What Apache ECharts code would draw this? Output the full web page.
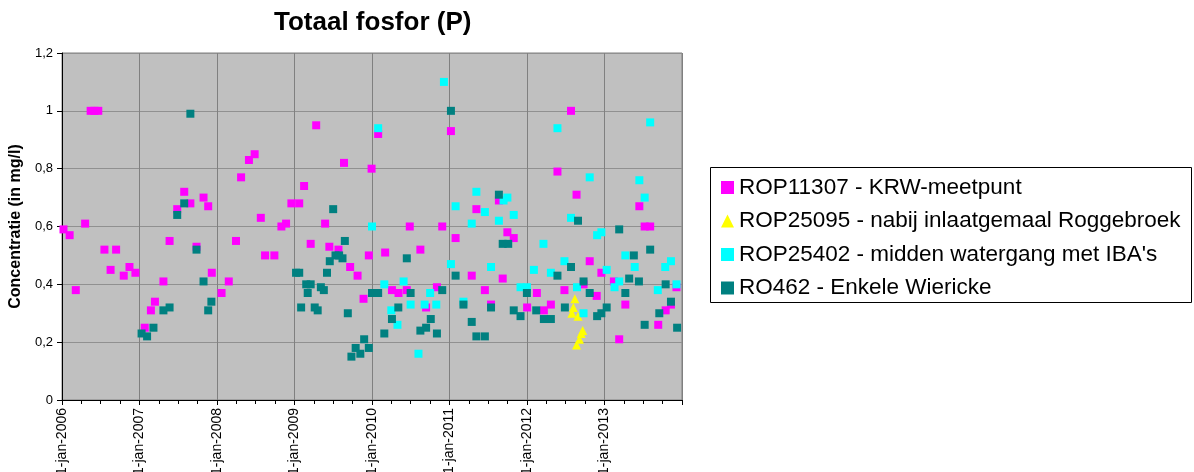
<!DOCTYPE html>
<html>
<head>
<meta charset="utf-8">
<script src="https://cdn.jsdelivr.net/npm/echarts@6/dist/echarts.min.js"></script>
<style>
html,body{margin:0;padding:0;background:#fff;}
#chart{width:1194px;height:472px;}
</style>
</head>
<body>
<div id="chart"></div>
<script>
const chartTitle = 'Totaal fosfor (P)';
const yAxisName = 'Concentratie (in mg/l)';
const seriesNames = [
  'ROP11307 - KRW-meetpunt',
  'ROP25095 - nabij inlaatgemaal Roggebroek',
  "ROP25402 - midden watergang met IBA's",
  'RO462 - Enkele Wiericke'
];
const xMin = '2006-01-01';
const xMax = '2014-01-01';
const yMin = 0, yMax = 1.2, yStep = 0.2;

const rop11307 = [
  ['2006-01-08',0.59],['2006-02-06',0.57],['2006-03-07',0.38],['2006-04-20',0.61],
  ['2006-05-16',1.00],['2006-06-03',1.00],['2006-06-21',1.00],['2006-07-20',0.52],
  ['2006-08-18',0.45],['2006-09-13',0.52],['2006-10-19',0.43],['2006-11-15',0.46],
  ['2006-12-13',0.44],['2007-01-26',0.25],['2007-02-24',0.31],['2007-03-15',0.34],
  ['2007-04-24',0.41],['2007-05-23',0.55],['2007-06-28',0.66],['2007-07-31',0.72],
  ['2007-08-29',0.68],['2007-09-27',0.53],['2007-10-30',0.70],['2007-11-21',0.67],
  ['2007-12-08',0.44],['2008-01-23',0.37],['2008-02-26',0.41],['2008-03-31',0.55],
  ['2008-04-24',0.77],['2008-05-31',0.83],['2008-06-27',0.85],['2008-07-26',0.63],
  ['2008-08-15',0.50],['2008-09-28',0.50],['2008-10-31',0.60],['2008-11-22',0.61],
  ['2008-12-17',0.68],['2009-01-23',0.68],['2009-02-15',0.74],['2009-03-18',0.54],
  ['2009-04-13',0.95],['2009-05-25',0.61],['2009-06-14',0.53],['2009-07-27',0.52],
  ['2009-08-22',0.82],['2009-09-20',0.46],['2009-10-25',0.43],['2009-11-22',0.35],
  ['2009-12-17',0.50],['2009-12-30',0.80],['2010-01-30',0.92],['2010-03-04',0.51],
  ['2010-04-05',0.38],['2010-05-06',0.37],['2010-06-14',0.38],['2010-06-28',0.60],
  ['2010-08-17',0.52],['2010-09-13',0.32],['2010-11-03',0.39],['2010-11-28',0.60],
  ['2011-01-08',0.93],['2011-01-30',0.56],['2011-04-16',0.43],['2011-05-08',0.66],
  ['2011-06-17',0.38],['2011-07-16',0.33],['2011-08-22',0.69],['2011-09-09',0.42],
  ['2011-10-01',0.58],['2011-10-31',0.56],['2012-01-02',0.32],['2012-02-17',0.37],
  ['2012-03-21',0.31],['2012-04-23',0.33],['2012-05-24',0.79],['2012-06-26',0.38],
  ['2012-07-27',1.00],['2012-08-22',0.71],['2012-09-24',0.40],['2012-10-23',0.48],
  ['2012-11-25',0.36],['2012-12-17',0.44],['2013-02-14',0.41],['2013-03-11',0.21],
  ['2013-04-09',0.33],['2013-06-14',0.67],['2013-07-09',0.60],['2013-08-04',0.60],
  ['2013-09-11',0.26],['2013-10-16',0.31],['2013-11-10',0.33],['2013-12-06',0.39]
];

const rop25095 = [
  ['2012-07-31',0.30],['2012-08-07',0.32],['2012-08-14',0.35],['2012-08-22',0.19],
  ['2012-08-29',0.29],['2012-09-05',0.21],['2012-09-13',0.23],['2012-09-20',0.24]
];

const rop25402 = [
  ['2010-01-01',0.60],['2010-01-30',0.94],['2010-02-28',0.40],['2010-04-02',0.31],
  ['2010-05-01',0.26],['2010-05-30',0.41],['2010-07-02',0.33],['2010-08-08',0.16],
  ['2010-09-06',0.33],['2010-10-02',0.37],['2010-10-31',0.33],['2010-12-06',1.10],
  ['2011-01-08',0.47],['2011-01-30',0.67],['2011-03-08',0.34],['2011-04-16',0.61],
  ['2011-05-08',0.72],['2011-06-17',0.65],['2011-07-16',0.46],['2011-08-22',0.62],
  ['2011-09-13',0.69],['2011-10-01',0.70],['2011-10-31',0.64],['2011-12-02',0.39],
  ['2012-01-01',0.39],['2012-02-03',0.45],['2012-03-19',0.54],['2012-04-23',0.44],
  ['2012-05-24',0.94],['2012-06-26',0.48],['2012-07-27',0.63],['2012-08-24',0.39],
  ['2012-09-24',0.30],['2012-10-23',0.77],['2012-11-27',0.57],['2012-12-17',0.58],
  ['2013-01-11',0.45],['2013-02-17',0.39],['2013-03-11',0.41],['2013-04-09',0.50],
  ['2013-05-23',0.46],['2013-06-14',0.76],['2013-07-09',0.70],['2013-08-04',0.96],
  ['2013-09-09',0.38],['2013-10-14',0.46],['2013-11-10',0.48],['2013-12-06',0.40]
];

const ro462 = [
  ['2007-01-11',0.23],['2007-02-06',0.22],['2007-03-08',0.25],['2007-04-24',0.31],
  ['2007-05-23',0.32],['2007-06-28',0.64],['2007-07-31',0.68],['2007-08-29',0.99],
  ['2007-09-27',0.52],['2007-10-30',0.41],['2007-11-21',0.31],['2007-12-06',0.34],
  ['2009-01-08',0.44],['2009-01-23',0.44],['2009-02-01',0.32],['2009-02-25',0.40],
  ['2009-03-04',0.37],['2009-03-18',0.40],['2009-04-06',0.32],['2009-04-20',0.31],
  ['2009-05-05',0.39],['2009-05-19',0.38],['2009-06-03',0.44],['2009-06-16',0.48],
  ['2009-07-02',0.66],['2009-07-13',0.50],['2009-07-30',0.50],['2009-08-15',0.49],
  ['2009-08-26',0.55],['2009-09-09',0.30],['2009-09-26',0.15],['2009-10-16',0.18],
  ['2009-11-07',0.16],['2009-11-25',0.21],['2009-12-17',0.18],['2010-01-01',0.37],
  ['2010-01-30',0.37],['2010-02-28',0.23],['2010-04-05',0.28],['2010-05-05',0.32],
  ['2010-06-14',0.49],['2010-07-02',0.37],['2010-08-17',0.24],['2010-09-13',0.25],
  ['2010-10-05',0.28],['2010-11-03',0.23],['2010-11-28',0.38],['2011-01-08',1.00],
  ['2011-01-30',0.43],['2011-03-08',0.33],['2011-04-16',0.27],['2011-05-08',0.22],
  ['2011-06-17',0.22],['2011-07-16',0.32],['2011-08-22',0.71],['2011-09-09',0.54],
  ['2011-10-05',0.54],['2011-10-31',0.31],['2011-12-02',0.29],['2012-01-01',0.37],
  ['2012-02-14',0.31],['2012-03-21',0.28],['2012-04-23',0.28],['2012-05-24',0.43],
  ['2012-06-28',0.32],['2012-07-27',0.46],['2012-08-29',0.62],['2012-09-24',0.41],
  ['2012-10-23',0.37],['2012-11-27',0.29],['2012-12-17',0.30],['2013-01-11',0.32],
  ['2013-03-11',0.59],['2013-04-09',0.37],['2013-04-27',0.42],['2013-05-19',0.50],
  ['2013-06-12',0.41],['2013-07-09',0.26],['2013-08-04',0.52],['2013-09-16',0.30],
  ['2013-10-16',0.40],['2013-11-10',0.34],['2013-12-09',0.25]
];

const FONT = 'Arial, "Liberation Sans", sans-serif';
const DAY = 86400000;

const chart = echarts.init(document.getElementById('chart'), null, {renderer: 'canvas'});
chart.setOption({
  animation: false,
  backgroundColor: '#ffffff',
  title: {
    text: chartTitle,
    left: 269, top: 5,
    textStyle: {fontFamily: FONT, fontSize: 26, fontWeight: 'bold', color: '#000'}
  },
  grid: {
    left: 62, right: 512, top: 53, bottom: 72,
    outerBoundsMode: 'none', containLabel: false,
    show: true, backgroundColor: '#c0c0c0', borderColor: '#808080', borderWidth: 1
  },
  legend: {
    orient: 'vertical',
    left: 716, top: 170,
    itemWidth: 13, itemHeight: 13,
    itemGap: 8.5,
    textStyle: {fontFamily: FONT, fontSize: 22.5, color: '#000', lineHeight: 25},
    data: seriesNames.map(function (n, i) {
      return {name: n, icon: i === 1 ? 'triangle' : 'rect'};
    })
  },
  graphic: [{
    type: 'rect',
    shape: {x: 710.5, y: 167.5, width: 481, height: 135},
    style: {fill: 'none', stroke: '#000', lineWidth: 1},
    silent: true
  }],
  xAxis: {
    type: 'time',
    min: xMin, max: xMax,
    minInterval: 365 * DAY, maxInterval: 366 * DAY,
    axisLine: {show: true, lineStyle: {color: '#000', width: 1}},
    axisTick: {show: true, length: 5, lineStyle: {color: '#000'}},
    minorTick: {show: true, splitNumber: 4, length: 4, lineStyle: {color: '#000'}},
    splitLine: {show: true, lineStyle: {color: '#808080', width: 1}},
    axisLabel: {
      rotate: 90, margin: 8,
      fontFamily: FONT, fontSize: 14, color: '#000',
      showMinLabel: true, showMaxLabel: false,
      formatter: function (v) {
        const y = new Date(v).getFullYear();
        return y < 2014 ? '1-jan-' + y : '';
      }
    }
  },
  yAxis: {
    type: 'value',
    min: yMin, max: yMax, interval: yStep,
    name: yAxisName, nameLocation: 'middle', nameGap: 38, nameRotate: 90,
    nameTextStyle: {fontFamily: FONT, fontSize: 16, fontWeight: 'bold', color: '#000'},
    axisLine: {show: true, lineStyle: {color: '#000', width: 1}},
    axisTick: {show: true, length: 5, lineStyle: {color: '#000'}},
    splitLine: {show: true, lineStyle: {color: '#909090', width: 1}},
    axisLabel: {
      margin: 9, fontFamily: FONT, fontSize: 13, color: '#000',
      formatter: function (v) { return String(Number(v.toFixed(1))).replace('.', ','); }
    }
  },
  series: [
    {name: seriesNames[0], type: 'scatter', symbol: 'rect', symbolSize: 8,
     itemStyle: {color: '#ff00ff', opacity: 1}, data: rop11307},
    {name: seriesNames[1], type: 'scatter', symbol: 'triangle', symbolSize: 9,
     itemStyle: {color: '#ffff00', opacity: 1}, data: rop25095},
    {name: seriesNames[2], type: 'scatter', symbol: 'rect', symbolSize: 8,
     itemStyle: {color: '#00ffff', opacity: 1}, data: rop25402},
    {name: seriesNames[3], type: 'scatter', symbol: 'rect', symbolSize: 8,
     itemStyle: {color: '#008080', opacity: 1}, data: ro462}
  ]
});
</script>
</body>
</html>
